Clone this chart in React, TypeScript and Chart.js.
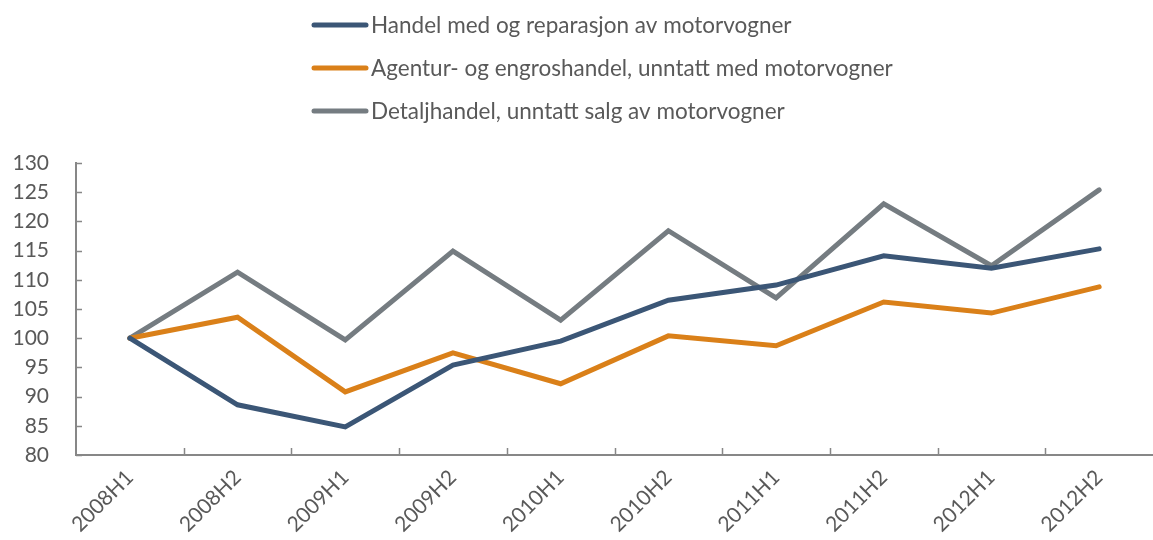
import React, { useEffect, useRef } from "react";
import { Chart, registerables } from "chart.js";

Chart.register(...registerables);

const categories = ["2008H1", "2008H2", "2009H1", "2009H2", "2010H1", "2010H2", "2011H1", "2011H2", "2012H1", "2012H2"];
const motorvogner = [100, 88.6, 84.8, 95.4, 99.5, 106.5, 109.1, 114.1, 112.0, 115.3];
const engros = [100, 103.6, 90.8, 97.5, 92.2, 100.4, 98.7, 106.2, 104.3, 108.8];
const detalj = [100, 111.3, 99.7, 114.9, 103.1, 118.4, 106.9, 123.0, 112.4, 125.4];
const seriesLabels = [
  "Handel med og reparasjon av motorvogner",
  "Agentur- og engroshandel, unntatt med motorvogner",
  "Detaljhandel, unntatt salg av motorvogner",
];
const colors = ["#3B5676", "#DA8019", "#757C81"];
const yMin = 80;
const yMax = 130;
const yStep = 5;

const FONT = "Lato, 'Open Sans', sans-serif";
const TEXT = "#595959";
const AXIS = "#878787";

const legendPlugin = {
  id: "vlegend",
  afterDraw(chart: any) {
    const ctx = chart.ctx;
    const rows = [25, 68, 111];
    ctx.save();
    chart.data.datasets.forEach((ds: any, i: number) => {
      const y = rows[i];
      ctx.strokeStyle = ds.borderColor;
      ctx.lineWidth = 5;
      ctx.lineCap = "round";
      ctx.beginPath();
      ctx.moveTo(314, y);
      ctx.lineTo(366, y);
      ctx.stroke();
      ctx.fillStyle = TEXT;
      ctx.font = `22.5px ${FONT}`;
      ctx.textBaseline = "middle";
      ctx.textAlign = "left";
      ctx.fillText(ds.label, 371, y + 1);
    });
    ctx.restore();
  },
};

const tickPlugin = {
  id: "innerTicks",
  afterDraw(chart: any) {
    const ctx = chart.ctx;
    const xs = chart.scales.x;
    const ys = chart.scales.y;
    const area = chart.chartArea;
    ctx.save();
    ctx.strokeStyle = AXIS;
    ctx.lineWidth = 1.5;
    ctx.beginPath();
    for (let v = yMin; v <= yMax; v += yStep) {
      const py = Math.round(ys.getPixelForValue(v)) + 0.5;
      ctx.moveTo(area.left, py);
      ctx.lineTo(area.left + 6, py);
    }
    for (let i = 1; i < categories.length; i++) {
      const px = Math.round((xs.getPixelForValue(i - 1) + xs.getPixelForValue(i)) / 2) + 0.5;
      ctx.moveTo(px, area.bottom);
      ctx.lineTo(px, area.bottom - 7);
    }
    ctx.stroke();
    ctx.restore();
  },
};

export default function App() {
  const ref = useRef<HTMLCanvasElement | null>(null);
  useEffect(() => {
    document.body.style.margin = "0";
    const values = [motorvogner, engros, detalj];
    const chart = new Chart(ref.current!, {
      type: "line",
      data: {
        labels: categories,
        datasets: values.map((d, i) => ({
          label: seriesLabels[i],
          data: d,
          borderColor: colors[i],
          backgroundColor: colors[i],
          borderWidth: 5,
          pointRadius: 0,
          borderCapStyle: "round",
          borderJoinStyle: "miter",
          tension: 0,
        })),
      },
      options: {
        animation: false,
        responsive: false,
        layout: { padding: { top: 163, right: 0, left: 0, bottom: 0 } },
        plugins: { legend: { display: false }, tooltip: { enabled: false } },
        scales: {
          x: {
            offset: true,
            grid: { display: false, drawTicks: false, offset: true },
            border: { display: true, color: AXIS, width: 2 },
            ticks: {
              color: TEXT,
              font: { family: FONT, size: 21 },
              maxRotation: 45,
              minRotation: 45,
              padding: 10,
              autoSkip: false,
            },
            afterFit: (s: any) => {
              s.height = 85;
            },
          },
          y: {
            min: yMin,
            max: yMax,
            grid: { display: false, drawTicks: false },
            border: { display: true, color: AXIS, width: 2 },
            ticks: {
              stepSize: yStep,
              color: TEXT,
              font: { family: FONT, size: 21 },
              padding: 27,
            },
            afterFit: (s: any) => {
              s.width = 76;
            },
          },
        },
      },
      plugins: [legendPlugin, tickPlugin],
    });
    return () => chart.destroy();
  }, []);
  return <canvas ref={ref} width={1153} height={540} style={{ display: "block" }} />;
}
